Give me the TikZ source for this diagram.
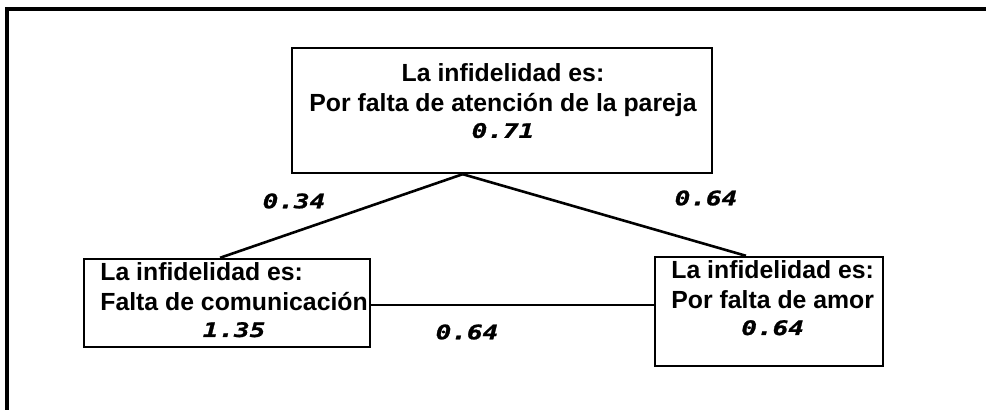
\documentclass[tikz,border=0pt]{standalone}
\usepackage{fontspec}
\usepackage{graphicx}
\usepackage{tikz}
\usetikzlibrary{calc}

\newfontfamily\boxfont{Liberation Sans Bold}
\newfontfamily\numfont{DejaVu Sans Mono Bold Oblique}[FakeBold=1]
\newcommand{\nm}[1]{\scalebox{1.3}[1]{\numfont\fontsize{10}{11}\selectfont #1}}

\begin{document}
\begin{tikzpicture}[x=0.5pt,y=-0.5pt,
    box/.style={draw,line width=1.2pt,inner sep=0pt},
    txt/.style={font=\boxfont\fontsize{12.4}{15}\selectfont,inner sep=0pt},
    link/.style={line width=1.3pt},
    wt/.style={inner sep=0pt}]
  \useasboundingbox (0,0) rectangle (986,410);
  % outer frame
  \draw[line width=1.6pt] (7,410) -- (7,9) -- (986,9);
  % boxes
  \node[box,minimum width=210pt,minimum height=62.5pt] (top) at (502,110.5) {};
  \node[box,minimum width=143pt,minimum height=44pt] (lt) at (227,303) {};
  \node[box,minimum width=114pt,minimum height=54.5pt] (rt) at (769,311.5) {};
  % texts
  \node[txt,align=center] (toptxt) at (503,101)
    {La infidelidad es:\\Por falta de atención de la pareja\\[-2pt]\nm{0.71}};
  \node[txt,anchor=west] (lttxt) at (100,303)
    {\begin{tabular}{@{}l@{}}La infidelidad es:\\Falta de comunicación\\[-2pt]\multicolumn{1}{@{}c@{}}{\nm{1.35}}\end{tabular}};
  \node[txt,anchor=west] (rttxt) at (671,301)
    {\begin{tabular}{@{}l@{}}La infidelidad es:\\Por falta de amor\\[-2pt]\multicolumn{1}{@{}c@{}}{\nm{0.64}}\end{tabular}};
  % links
  \draw[link] ($(top.south west)!.407!(top.south east)$) -- ($(lt.north west)!.476!(lt.north east)$);
  \draw[link] ($(top.south west)!.407!(top.south east)$) -- ($(rt.north west)!.40!(rt.north east)$);
  \coordinate (mid) at ($(lt.north east)!.52!(lt.south east)$);
  \draw[link] (mid) -- (mid -| rt.west);
  % weights
  \node[wt] (w1) at (294,201) {\nm{0.34}};
  \node[wt] (w2) at (706,198) {\nm{0.64}};
  \node[wt] (w3) at (467,332) {\nm{0.64}};
\end{tikzpicture}
\end{document}
